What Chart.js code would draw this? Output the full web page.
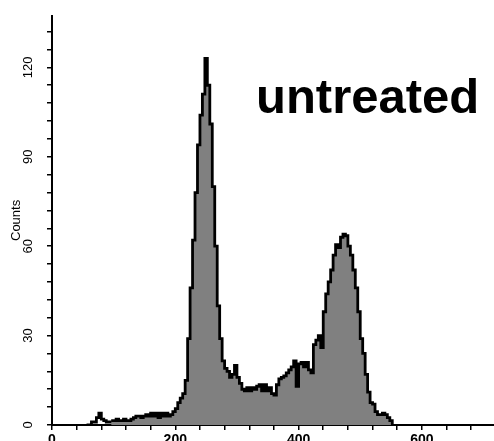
<!DOCTYPE html>
<html><head><meta charset="utf-8">
<script src="https://cdn.jsdelivr.net/npm/chart.js@4.4.1/dist/chart.umd.min.js"></script>
<style>html,body{margin:0;padding:0;background:#fff;} canvas{display:block;}</style>
</head><body>
<canvas id="c" width="494" height="441"></canvas>
<script>
// ---- data ----
const ungatedChannels = [56, 60, 64, 68, 72, 76, 80, 84, 88, 92, 96];
const ungatedCounts   = [0, 0, 1, 1, 2.5, 4, 2, 1.5, 1, 1, 1.5];

const gatedChannels = [
  96,100,104,108,112,116,120,124,128,132,136,140,144,148,152,156,160,164,168,172,
  176,180,184,188,192,196,200,204,208,212,216,220,224,228,232,236,240,244,248,252,
  256,260,264,268,272,276,280,284,288,292,296,300,304,308,312,316,320,324,328,332,
  336,340,344,348,352,356,360,364,368,372,376,380,384,388,392,396,400,404,408,412,
  416,420,424,428,432,436,440,444,448,452,456,460,464,468,472,476,480,484,488,492,
  496,500,504,508,512,516,520,524,528,532,536,540,544,548,552
];
const gatedCounts = [
  1.5,1.5,2,1.5,1.5,2,1.5,1.5,2,2.5,3,3,2.5,3,3.5,3,4,3,4,2.5,
  4,3,4,3,3.5,4.5,5.5,7.5,9,10.5,15,29,46,62,78,94,104,111,123,114,
  101,80,60,40,29,21.5,19,18,16,17,20,16,14,12,11.5,12.5,11.5,12.5,12,13,
  13.5,11.5,13.5,11.5,12.5,10.5,10,13.5,15.5,16,16.5,17.5,18.5,19.5,21.5,13,20.5,21,19.5,21,
  18.5,17.5,27,28.5,30,26,38,44,48,52,57,60.5,59.5,63,64,63.5,60,57,52,46,
  38,29,24,17,11,7.5,7,4.5,3.5,3.5,4,3.5,2.5,1.5,0
];

const yTickValues  = [0,6,12,18,24,30,36,42,48,54,60,66,72,78,84,90,96,102,108,114,120,126,132];
const yLabelValues = [0,30,60,90,120];
const xTickValues  = [0,40,80,120,160,200,240,280,320,360,400,440,480,520,560,600,640,680];
const xLabelValues = [0,200,400,600];
const yAxisTitle   = 'Counts';
const sampleLabel  = 'untreated';

const toPoints = (xs, ys) => xs.map((x, i) => ({x: x, y: ys[i]}));

const labelPlugin = {
  id: 'sampleLabel',
  afterDraw(chart) {
    const ctx = chart.ctx;
    ctx.save();
    ctx.font = 'bold 49px "Liberation Sans", Arial, sans-serif';
    ctx.fillStyle = '#000';
    ctx.textBaseline = 'alphabetic';
    ctx.textAlign = 'left';
    ctx.fillText(sampleLabel, 256, 113);
    ctx.restore();
  }
};

new Chart(document.getElementById('c'), {
  type: 'line',
  data: {
    datasets: [
      {
        label: 'gated',
        data: toPoints(gatedChannels, gatedCounts),
        stepped: true,
        borderColor: '#000',
        borderWidth: 2.8,
        backgroundColor: '#808080',
        fill: 'origin',
        pointRadius: 0,
        tension: 0
      },
      {
        label: 'ungated',
        data: toPoints(ungatedChannels, ungatedCounts),
        stepped: true,
        borderColor: '#000',
        borderWidth: 2.8,
        backgroundColor: 'rgba(0,0,0,0)',
        fill: false,
        pointRadius: 0,
        tension: 0
      }
    ]
  },
  options: {
    responsive: false,
    animation: false,
    layout: {padding: {top: 13, left: 0, right: 0, bottom: 0}},
    plugins: {legend: {display: false}, tooltip: {enabled: false}},
    scales: {
      x: {
        type: 'linear', min: 0, max: 717, z: 1,
        afterBuildTicks: s => { s.ticks = xTickValues.map(v => ({value: v})); },
        afterFit: s => { s.height = 16; },
        border: {display: true, color: '#000', width: 2},
        grid: {display: true, drawOnChartArea: false, drawTicks: true, tickLength: 5, color: '#000', lineWidth: 1.5},
        ticks: {
          autoSkip: false, minRotation: 0, maxRotation: 0, padding: 2, color: '#000',
          font: {family: '"Liberation Sans", Arial, sans-serif', size: 14, weight: 'bold'},
          callback: v => xLabelValues.includes(v) ? String(v) : ''
        }
      },
      y: {
        type: 'linear', min: 0, max: 137.3, z: 1,
        afterBuildTicks: s => { s.ticks = yTickValues.map(v => ({value: v})); },
        afterFit: s => { s.width = 52; },
        border: {display: true, color: '#000', width: 2},
        grid: {display: true, drawOnChartArea: false, drawTicks: true, tickLength: 5, color: '#000', lineWidth: 1.5},
        ticks: {
          autoSkip: false, minRotation: 90, maxRotation: 90, crossAlign: 'center', padding: 8, color: '#000',
          font: {family: '"Liberation Sans Narrow", "Liberation Sans", Arial, sans-serif', size: 13},
          callback: v => yLabelValues.includes(v) ? String(v) : ''
        },
        title: {
          display: true, text: yAxisTitle, color: '#000',
          font: {family: '"Liberation Sans Narrow", "Liberation Sans", Arial, sans-serif', size: 13},
          padding: {top: 9, bottom: 0}
        }
      }
    }
  },
  plugins: [labelPlugin]
});
</script>
</body></html>
